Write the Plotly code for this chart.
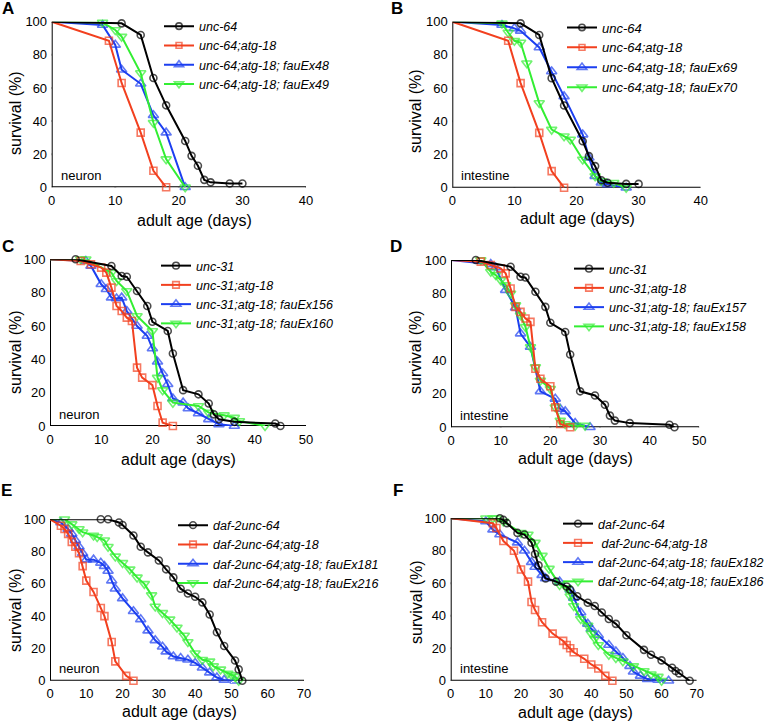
import plotly.graph_objects as go

W, H = 777, 723

# ---- data (days, survival %) ----
unc64_x = [0, 11, 14, 16, 18, 21, 22, 23, 24, 25, 28, 30]
unc64_y = [100, 99, 92, 66, 49.5, 28, 19, 13, 4.5, 3, 2.3, 2.3]
unc64_atg18_x = [0, 9, 11, 14, 16, 18]
unc64_atg18_y = [100, 88.5, 63, 33, 10, 0]
fauEx48_x = [0, 8, 10, 11, 14, 16, 18, 21]
fauEx48_y = [100, 98, 86, 71, 62.5, 43.5, 33, 0]
fauEx49_x = [0, 8, 10, 11, 14, 16, 18, 21]
fauEx49_y = [100, 99.5, 95, 91, 69, 39, 17, 0]
fauEx69_x = [0, 8, 10, 11, 14, 16, 18, 21, 22, 23, 24, 25, 28]
fauEx69_y = [100, 98, 96, 94.5, 84.5, 70, 55, 32, 18, 7, 3, 2, 0]
fauEx70_x = [0, 8, 9, 10, 11, 12, 14, 16, 18, 19, 21, 23, 24, 26, 28]
fauEx70_y = [100, 99, 93.5, 88.5, 87.5, 75, 51, 35, 31, 29, 17, 7, 4, 3, 0]

unc31_x = [0, 5, 12, 14, 15, 17, 19, 20, 23, 24, 26, 29, 31, 32, 33, 36, 44, 45]
unc31_y = [100, 100, 96, 90, 89.5, 81, 72, 62.5, 57, 43.5, 21.5, 19, 13.5, 7, 4, 2.5, 1.5, 0]
unc31_atg18_x = [0, 6, 8, 10, 11, 12, 13, 14, 15, 16, 17, 18, 20, 21, 22, 24]
unc31_atg18_y = [100, 99, 97, 95, 92, 83, 72, 69, 65, 63, 35, 29, 24.5, 12, 2, 0]
fauEx156_x = [0, 7, 8, 10, 11, 12, 13, 14, 15, 17, 19, 20, 21, 22, 23, 24, 26, 27, 29, 31, 33, 36]
fauEx156_y = [100, 99, 96, 85, 82, 77, 76.5, 77, 69, 60, 54, 46.5, 38.5, 31.5, 25, 16.5, 14, 10.5, 7.5, 4, 1, 0]
fauEx160_x = [0, 6, 7, 12, 13, 15, 17, 20, 21, 22, 24, 29, 31, 34, 36, 37, 42]
fauEx160_y = [100, 100, 100, 92, 87, 81, 66, 57, 29, 21.5, 14, 12, 8, 6.5, 5, 3, 0]
fauEx157_x = [0, 8, 9, 11, 13, 14, 16, 18, 21, 22, 23, 25, 28]
fauEx157_y = [100, 97.5, 95.5, 82, 71.5, 56, 48, 21.5, 17, 11, 9.5, 2.5, 0]
fauEx158_x = [0, 6, 8, 9, 10, 11, 12, 13, 14, 15, 16, 17, 18, 20, 21, 22, 23, 25, 27]
fauEx158_y = [100, 100, 93, 91, 88, 85, 80, 73, 67, 60, 48, 36, 28, 23, 12, 4, 2, 1, 1]

daf2_E_x = [0, 14, 16, 19, 20, 23, 25, 27, 30, 32, 34, 36, 38, 40, 42, 44, 46, 48, 51, 52, 53]
daf2_E_y = [100, 100, 100, 98, 96.5, 90, 83, 79.5, 74.5, 69, 64, 57, 54, 52, 48.5, 41, 30, 21.5, 12.5, 7, 0]
daf2_atg18_E_x = [0, 3, 4, 5, 6, 7, 8, 9, 10, 12, 14, 15, 17, 18, 21, 23]
daf2_atg18_E_y = [100, 96, 94, 91, 86, 83, 79, 71, 62, 55, 45, 40, 24, 12, 3, 0]
fauEx181_x = [0, 3, 5, 6, 7, 8, 9, 10, 12, 14, 15, 16, 17, 18, 20, 23, 25, 27, 29, 31, 32, 34, 36, 38, 40, 42, 44, 46, 48, 51]
fauEx181_y = [100, 98, 94, 91, 87, 83, 79, 75, 75, 73, 71, 68, 62, 57, 51, 43, 38, 31, 25, 21, 18, 15, 14, 13, 11, 8, 5, 2, 0.5, 0]
fauEx216_x = [0, 4, 6, 8, 9, 12, 13, 15, 16, 18, 20, 22, 24, 26, 28, 29, 31, 33, 35, 37, 38, 40, 42, 44, 45, 47, 49, 50, 51, 52]
fauEx216_y = [100, 100, 97, 94, 92, 90, 89, 87, 83, 77, 73, 69, 64, 60, 53, 46, 42, 38, 33, 28, 24, 17, 13, 12, 9, 7, 4.5, 3.5, 2.5, 0]

daf2_F_x = [0, 14, 15, 16, 19, 21, 23, 24, 25, 27, 30, 33, 34, 36, 39, 41, 43, 45, 47, 50, 55, 57, 60, 63, 64, 65, 68]
daf2_F_y = [100, 100, 99, 97, 91, 90, 85, 78, 71, 63, 61, 58, 56, 52, 48, 46, 42, 38, 35, 28, 19, 16, 12.5, 8, 6, 4.5, 0]
daf2_atg18_F_x = [0, 12, 13, 15, 18, 20, 22, 23, 24, 26, 29, 32, 33, 34, 35, 38, 40, 42, 44, 46]
daf2_atg18_F_y = [100, 97, 94, 86, 80, 68.5, 61, 48.5, 43.5, 36, 29, 24.5, 22, 20, 17.5, 13.5, 10, 7.5, 3, 0]
fauEx182_x = [0, 10, 12, 14, 19, 21, 23, 24, 26, 27, 31, 34, 35, 37, 39, 40, 42, 45, 47, 49, 51, 52, 54, 56, 59, 62]
fauEx182_y = [100, 98, 93, 90, 85, 80, 73, 70, 65, 63, 61, 56, 51, 42, 35, 32, 28, 22, 18, 14, 9, 5.5, 3, 1, 0.5, 0]
fauEx186_x = [0, 10, 12, 13, 15, 20, 22, 24, 26, 28, 31, 33, 34, 35, 37, 39, 40, 41, 42, 45, 47, 49, 52, 55, 57, 59, 60]
fauEx186_y = [100, 100, 100, 100, 98, 91, 90, 85, 77, 69, 59, 57, 52, 46, 38, 34, 29, 26, 22, 16, 14, 12, 9, 6, 4, 2.5, 0]

BLACK, RED, BLUE, GREEN = "#000000", "#f2401f", "#1c3ff0", "#33ee33"
SYMBOLS = ["circle-open", "square-open", "triangle-up-open", "triangle-down-open"]
MSIZE = [7, 7, 9, 9]
COLORS = [BLACK, RED, BLUE, GREEN]
DRAW_ORDER = [2, 3, 1, 0]   # blue first, black last (on top)
FONT = "Arial, Liberation Sans, sans-serif"
TICK = 5  # px


def px(x):
    return x / W


def py(y):
    return 1 - y / H


panels = [
    dict(letter="A", tissue="neuron", xmax=40, box=(51.7, 306, 21.7, 187.3), leg=(159, 11.5, 12.5),
         lpos=(8, 9), xt=(194, 220), yt=(15, 113),
         series=[("unc-64", unc64_x, unc64_y), ("unc-64;atg-18", unc64_atg18_x, unc64_atg18_y),
                 ("unc-64;atg-18; fauEx48", fauEx48_x, fauEx48_y),
                 ("unc-64;atg-18; fauEx49", fauEx49_x, fauEx49_y)]),
    dict(letter="B", tissue="intestine", xmax=40, box=(452.3, 700.7, 21.7, 187.7), leg=(562, 12.5, 13),
         lpos=(397, 9), xt=(577, 218), yt=(415, 111),
         series=[("unc-64", unc64_x, unc64_y), ("unc-64;atg-18", unc64_atg18_x, unc64_atg18_y),
                 ("unc-64;atg-18; fauEx69", fauEx69_x, fauEx69_y),
                 ("unc-64;atg-18; fauEx70", fauEx70_x, fauEx70_y)]),
    dict(letter="C", tissue="neuron", xmax=50, box=(50, 306, 259.3, 426), leg=(156, 251, 12.5),
         lpos=(7.5, 246.5), xt=(178, 460), yt=(15, 352),
         series=[("unc-31", unc31_x, unc31_y), ("unc-31;atg-18", unc31_atg18_x, unc31_atg18_y),
                 ("unc-31;atg-18; fauEx156", fauEx156_x, fauEx156_y),
                 ("unc-31;atg-18; fauEx160", fauEx160_x, fauEx160_y)]),
    dict(letter="D", tissue="intestine", xmax=50, box=(451, 699.3, 260, 427.3), leg=(569, 254, 12.5),
         lpos=(396, 246.5), xt=(575, 458), yt=(415, 352),
         series=[("unc-31", unc31_x, unc31_y), ("unc-31;atg-18", unc31_atg18_x, unc31_atg18_y),
                 ("unc-31;atg-18; fauEx157", fauEx157_x, fauEx157_y),
                 ("unc-31;atg-18; fauEx158", fauEx158_x, fauEx158_y)]),
    dict(letter="E", tissue="neuron", xmax=70, box=(50, 304, 519.3, 680.7), leg=(173, 510.5, 12.5),
         lpos=(6.5, 490), xt=(179, 711), yt=(15, 610),
         series=[("daf-2unc-64", daf2_E_x, daf2_E_y),
                 ("daf-2unc-64;atg-18", daf2_atg18_E_x, daf2_atg18_E_y),
                 ("daf-2unc-64;atg-18; fauEx181", fauEx181_x, fauEx181_y),
                 ("daf-2unc-64;atg-18; fauEx216", fauEx216_x, fauEx216_y)]),
    dict(letter="F", tissue="intestine", xmax=70, box=(450.7, 696.7, 518.3, 680.7), leg=(558, 509, 12.5),
         lpos=(398, 490), xt=(575, 712), yt=(416, 602),
         series=[("daf-2unc-64", daf2_F_x, daf2_F_y),
                 (" daf-2unc-64;atg-18", daf2_atg18_F_x, daf2_atg18_F_y),
                 ("daf-2unc-64;atg-18; fauEx182", fauEx182_x, fauEx182_y),
                 ("daf-2unc-64;atg-18; fauEx186", fauEx186_x, fauEx186_y)]),
]

fig = go.Figure()
layout = dict(width=W, height=H, margin=dict(l=0, r=0, t=0, b=0, autoexpand=False),
              plot_bgcolor="white", paper_bgcolor="white", showlegend=True,
              font=dict(family=FONT, size=13, color="black"))
annotations = []


def note(text, x, y, size, **kw):
    annotations.append(dict(text=text, x=px(x), y=py(y), xref="paper", yref="paper",
                            xanchor=kw.pop("xanchor", "center"), yanchor="middle",
                            showarrow=False, font=dict(family=FONT, size=size, color="black"),
                            **kw))


for i, p in enumerate(panels):
    n = "" if i == 0 else str(i + 1)
    x0, x1, y0, y1 = p["box"]
    wpx, hpx = x1 - x0, y1 - y0
    xmax = p["xmax"]
    axis_common = dict(showline=False, ticks="outside", ticklen=1, tickwidth=1,
                       tickcolor="white", showgrid=False, zeroline=False,
                       tickfont=dict(family=FONT, size=13, color="black"))
    layout["xaxis" + n] = dict(axis_common, domain=[px(x0), px(x1)], range=[0, xmax],
                               dtick=10, anchor="y" + n)
    layout["yaxis" + n] = dict(axis_common, domain=[py(y1), py(y0)], range=[0, 100],
                               dtick=20, anchor="x" + n)

    # axis frame (L shape) and outside ticks, built from the axis ranges
    dy = TICK / hpx * 100
    dx = TICK / wpx * xmax
    fx, fy = [0, 0, xmax], [100, 0, 0]
    for t in range(0, xmax + 1, 10):
        fx += [None, t, t]
        fy += [None, 0, -dy]
    for t in range(0, 101, 20):
        fx += [None, 0, -dx]
        fy += [None, t, t]
    fig.add_trace(go.Scatter(x=fx, y=fy, mode="lines", xaxis="x" + n, yaxis="y" + n,
                             showlegend=False, hoverinfo="skip", cliponaxis=False,
                             line=dict(color="black", width=2)))

    leg = "legend" + n
    lx, ly, lsize = p["leg"]
    layout[leg] = dict(x=px(lx), y=py(ly), xanchor="left", yanchor="top",
                       bgcolor="rgba(0,0,0,0)",
                       font=dict(family=FONT, size=lsize, color="black", style="italic"))
    for k in DRAW_ORDER:
        name, xs, ys = p["series"][k]
        sizes = [0] + [MSIZE[k]] * (len(xs) - 1)
        fig.add_trace(go.Scatter(
            x=xs, y=ys, name=name, mode="lines+markers", xaxis="x" + n, yaxis="y" + n,
            legend=leg, legendrank=k + 1, cliponaxis=False,
            line=dict(color=COLORS[k], width=2),
            marker=dict(symbol=SYMBOLS[k], size=sizes, color=COLORS[k],
                        line=dict(color=COLORS[k], width=1.6))))
    note("<b>%s</b>" % p["letter"], p["lpos"][0], p["lpos"][1], 17)
    note(p["tissue"], x0 + 7, y1 - 12, 13, xanchor="left")
    note("adult age (days)", p["xt"][0], p["xt"][1], 16)
    note("survival (%)", p["yt"][0], p["yt"][1], 16, textangle=-90)

layout["annotations"] = annotations
fig.update_layout(layout)
fig.write_html("out.html", config={"staticPlot": True, "displayModeBar": False},
               post_script="document.body.style.margin='0';")
